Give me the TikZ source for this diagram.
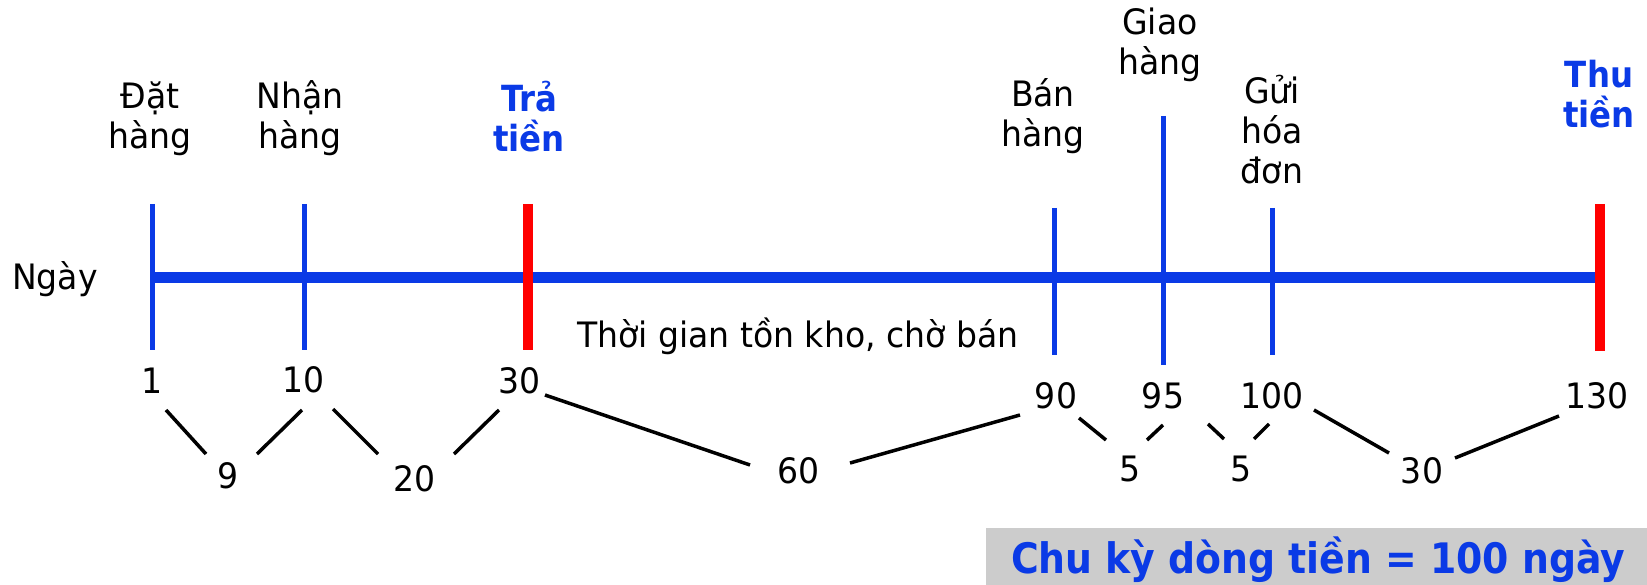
\documentclass[tikz,border=0pt]{standalone}
\usepackage{fontspec}
\setmainfont{DejaVu Sans Condensed}[FakeStretch=1.05]
\newfontfamily\heavyfont{DejaVu Sans Condensed Bold}
\usetikzlibrary{calc}
\definecolor{axisblue}{RGB}{10,58,230}
\definecolor{tickred}{RGB}{255,0,0}
\definecolor{boxgray}{RGB}{204,204,204}
\begin{document}
\begin{tikzpicture}[x=1pt,y=-1pt,
  lbl/.style={align=center, font=\fontsize{35}{40}\selectfont, anchor=base, inner sep=0pt},
  keylbl/.style={lbl, font=\fontsize{36}{40}\selectfont\heavyfont, text=axisblue},
  num/.style={font=\fontsize{35}{40}\selectfont, anchor=base, inner sep=0pt},
  link/.style={line width=3.5pt},
  bluetick/.style={draw=axisblue, line width=5pt},
  redtick/.style={draw=tickred, line width=10pt},
]
\useasboundingbox (0,0) rectangle (1647,585);

% time axis
\coordinate (aStart) at (152,277.5);
\coordinate (aEnd) at (1600,277.5);
\draw[axisblue, line width=10.5pt] (aStart) -- (aEnd);

% event ticks
\draw[bluetick] (152,204) -- (152,350);
\draw[bluetick] (304,204) -- (304,350);
\draw[redtick]  (528,204) -- (528,350);
\draw[bluetick] (1054,208) -- (1054,355);
\draw[bluetick] (1163,116) -- (1163,365);
\draw[bluetick] (1272,208) -- (1272,355);
\draw[redtick]  (1600,204) -- (1600,351);

% event labels (anchored on the baseline of the last line)
\node[lbl] (ngay) at (55,290) {Ngày};
\node[lbl] (lDat) at (150,149) {Đặt\\hàng};
\node[lbl] (lNhan) at (300,149) {Nhận\\hàng};
\node[keylbl] (lTra) at (529,152) {Trả\\tiền};
\node[lbl] (lBan) at (1043,147) {Bán\\hàng};
\node[lbl] (lGiao) at (1160,75) {Giao\\hàng};
\node[lbl] (lGui) at (1272,184) {Gửi\\hóa\\đơn};
\node[keylbl] (lThu) at (1599,128) {Thu\\tiền};
\node[lbl] (lTon) at (798,348) {Thời gian tồn kho, chờ bán};

% day numbers
\node[num] (n1) at (152,393) {1};
\node[num] (n10) at (304,392) {10};
\node[num] (n30) at (520,393) {30};
\node[num] (n90) at (1056,408) {90};
\node[num] (n95) at (1163,408) {95};
\node[num] (n100) at (1272,408) {100};
\node[num] (n130) at (1597,408) {130};

% durations
\node[num] (d9) at (228,488) {9};
\node[num] (d20) at (415,491) {20};
\node[num] (d60) at (799,483) {60};
\node[num] (d5a) at (1130,481) {5};
\node[num] (d5b) at (1241,481) {5};
\node[num] (d30) at (1422,483) {30};

% links between day numbers and durations
\draw[link] ($(n1.base)+(14,17)$) -- ($(d9.base)+(-22,-34)$);
\draw[link] ($(n10.base)+(-2,18)$) -- ($(d9.base)+(29,-34)$);
\draw[link] ($(n10.base)+(29,17)$) -- ($(d20.base)+(-37,-37)$);
\draw[link] ($(n30.base)+(-21,17)$) -- ($(d20.base)+(39,-37)$);
\draw[link] ($(n30.base)+(25,2)$) -- ($(d60.base)+(-49,-18)$);
\draw[link] ($(n90.base)+(-36,7)$) -- ($(d60.base)+(51,-20)$);
\draw[link] ($(n90.base)+(23,10)$) -- ($(d5a.base)+(-24,-41)$);
\draw[link] ($(n95.base)+(0,17)$) -- ($(d5a.base)+(17,-41)$);
\draw[link] ($(n95.base)+(45,16)$) -- ($(d5b.base)+(-17,-42)$);
\draw[link] ($(n100.base)+(-3,16)$) -- ($(d5b.base)+(13,-42)$);
\draw[link] ($(n100.base)+(42,2)$) -- ($(d30.base)+(-33,-30)$);
\draw[link] ($(n130.base)+(-38,8)$) -- ($(d30.base)+(33,-25)$);

% summary box
\node[fill=boxgray, minimum width=661pt, minimum height=57pt, inner sep=0pt, anchor=north west] (summary) at (986,528) {};
\node[font=\fontsize{42}{48}\selectfont\heavyfont, text=axisblue, anchor=base, inner sep=0pt] (summaryText) at (1318,573) {Chu kỳ dòng tiền = 100 ngày};
\end{tikzpicture}
\end{document}
